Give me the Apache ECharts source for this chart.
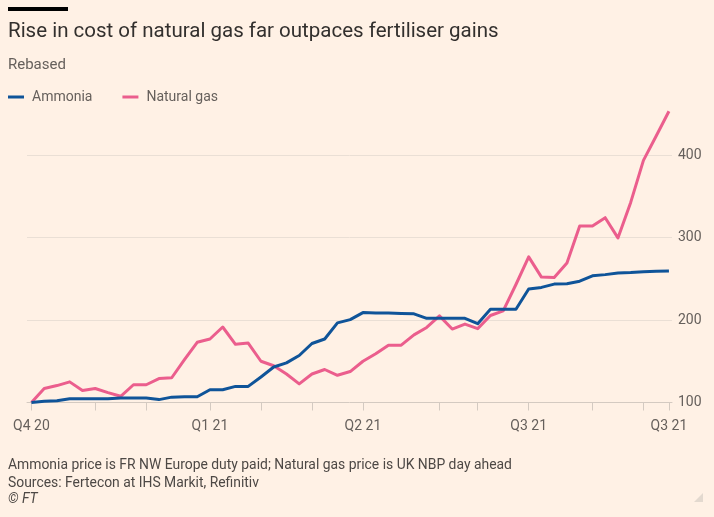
<!DOCTYPE html>
<html>
<head>
<meta charset="utf-8">
<title>Rise in cost of natural gas far outpaces fertiliser gains</title>
<script src="https://cdn.jsdelivr.net/npm/echarts@6/dist/echarts.min.js"></script>
<style>
  html, body { margin: 0; padding: 0; background: #fff1e5; }
  #main { width: 714px; height: 517px; }
</style>
</head>
<body>
<div id="main"></div>
<script>
// weekly observations, rebased to 100 at the first week
var ammonia = [100, 101.5, 102, 104.5, 104.5, 104.5, 104.5, 105.5, 105.5, 105.5,
    103.5, 106.5, 107, 107, 115.5, 115.5, 119.5, 119.5, 131, 143,
    148, 157, 171.5, 177, 196.5, 200.5, 209, 208.5, 208.5, 208,
    207.5, 202, 202, 202, 202, 195.5, 213, 213, 213, 237.5,
    239.5, 243.5, 244, 247, 253.5, 255, 257, 257.5, 258.5, 259, 259.5];
var naturalGas = [100, 117, 120.5, 125, 114.5, 117, 112, 107.5, 121.5, 121.5,
    129, 130, 152, 173, 177, 191.5, 170.5, 172, 150, 144.5,
    134.5, 122.5, 134.5, 140, 133, 137.5, 150, 159, 169.5, 169.5,
    182, 191, 205, 189, 195, 189.5, 205.5, 211, 243, 276.5,
    252, 251.5, 269, 314, 314, 324, 299.5, 342.5, 393.5, 423, 453];
// week index -> quarter label, and the week indexes that get a small tick
var quarterLabels = {0: 'Q4 20', 14: 'Q1 21', 26: 'Q2 21', 39: 'Q3 21', 50: 'Q3 21'};
var tickWeeks = [0, 5, 9, 14, 18, 22, 26, 32, 35, 39, 44, 48, 50];
var yTicks = [100, 200, 300, 400];

var textFont = 'Roboto';
var labelColor = '#66605c';
var noteColor = '#4d4845';

function toPairs(values) {
    return values.map(function (v, i) { return [i, v]; });
}

var chart = echarts.init(document.getElementById('main'), null, {renderer: 'canvas'});

var option = {
    backgroundColor: '#fff1e5',
    animation: false,
    textStyle: { fontFamily: textFont },
    title: [
        {
            text: 'Rise in cost of natural gas far outpaces fertiliser gains',
            left: 8, top: 21, padding: 0,
            textStyle: { fontSize: 20.5, fontWeight: 'normal', color: '#33302e', fontFamily: textFont }
        },
        {
            text: 'Rebased',
            left: 8, top: 58, padding: 0,
            textStyle: { fontSize: 15, fontWeight: 'normal', color: labelColor, fontFamily: textFont }
        },
        {
            text: 'Ammonia price is FR NW Europe duty paid; Natural gas price is UK NBP day ahead\nSources: Fertecon at IHS Markit, Refinitiv',
            left: 8, top: 457, padding: 0,
            textStyle: { fontSize: 13.9, fontWeight: 'normal', color: noteColor, lineHeight: 18, fontFamily: textFont }
        },
        {
            text: '© FT',
            left: 8, top: 493, padding: 0,
            textStyle: { fontSize: 13.9, fontWeight: 'normal', fontStyle: 'italic', color: noteColor, fontFamily: textFont }
        }
    ],
    legend: {
        left: 8, top: 90, padding: 0,
        itemWidth: 16, itemHeight: 3, itemGap: 30,
        icon: 'rect',
        textStyle: { fontSize: 14, color: labelColor, fontFamily: textFont, padding: [0, 0, 0, 3] },
        data: ['Ammonia', 'Natural gas']
    },
    grid: { left: 27, top: 105.5, width: 645, height: 297, containLabel: false },
    xAxis: {
        type: 'value',
        min: -0.35, max: 50.24,
        splitLine: { show: false },
        axisLine: { show: true, onZero: false, lineStyle: { color: '#d4cac1', width: 1 } },
        axisTick: {
            show: true, length: 8, customValues: tickWeeks,
            lineStyle: { color: '#d4cac1', width: 1 }
        },
        axisLabel: {
            customValues: Object.keys(quarterLabels).map(Number),
            margin: 17, fontSize: 14, color: labelColor, fontFamily: textFont,
            formatter: function (v) { return quarterLabels[v] || ''; }
        }
    },
    yAxis: {
        type: 'value',
        position: 'right',
        min: 100, max: 460, interval: 100,
        axisLine: { show: false },
        axisTick: { show: false },
        axisLabel: {
            showMaxLabel: false, margin: 6, fontSize: 14, color: labelColor, fontFamily: textFont,
            formatter: function (v) { return yTicks.indexOf(v) >= 0 ? String(v) : ''; }
        },
        splitLine: {
            showMinLine: false, showMaxLine: false,
            lineStyle: { color: '#eadfd5', width: 1 }
        }
    },
    series: [
        {
            name: 'Ammonia', type: 'line',
            data: toPairs(ammonia),
            showSymbol: false, symbol: 'none',
            lineStyle: { color: '#0f5499', width: 3, join: 'round' },
            itemStyle: { color: '#0f5499' },
            z: 3
        },
        {
            name: 'Natural gas', type: 'line',
            data: toPairs(naturalGas),
            showSymbol: false, symbol: 'none',
            lineStyle: { color: '#eb5e8d', width: 3, join: 'round' },
            itemStyle: { color: '#eb5e8d' },
            z: 2
        }
    ],
    graphic: [
        // black bar above the title
        { type: 'rect', shape: { x: 8, y: 7, width: 60, height: 4 }, style: { fill: '#000000' } },
        // small corner mark bottom right
        { type: 'polygon', shape: { points: [[703, 493], [703, 502], [694, 502]] }, style: { fill: '#e3d9cf' } }
    ]
};

chart.setOption(option);
</script>
</body>
</html>
